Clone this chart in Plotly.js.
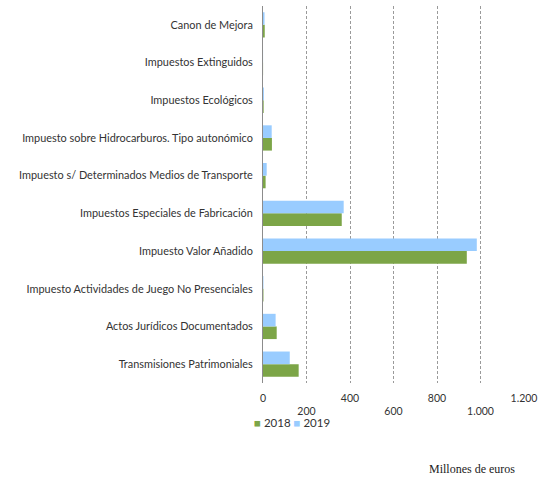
<!DOCTYPE html>
<html>
<head>
<meta charset="utf-8">
<script src="https://cdn.plot.ly/plotly-3.0.1.min.js"></script>
<style>html,body{margin:0;padding:0;background:#fff;}#chart{width:540px;height:482px;}</style>
</head>
<body>
<div id="chart"></div>
<script>
// Categories listed top to bottom as in the chart
var categories = [
  "Canon de Mejora",
  "Impuestos Extinguidos",
  "Impuestos Ecológicos",
  "Impuesto sobre Hidrocarburos. Tipo autonómico",
  "Impuesto s/ Determinados Medios de Transporte",
  "Impuestos Especiales de Fabricación",
  "Impuesto Valor Añadido",
  "Impuesto Actividades de Juego No Presenciales",
  "Actos Jurídicos Documentados",
  "Transmisiones Patrimoniales"
];
var values2018 = [8, 0.3, 3, 41, 12, 362, 937, 2, 63, 164];
var values2019 = [7, 0.3, 4, 40, 17, 371, 983, 2, 58, 123];
var seriesNames = ["2018", "2019"];
var seriesColors = ["#7CA547", "#99CCFF"];
// staggered tick labels: upper row and lower row
var tickVals = [0, 200, 400, 600, 800, 1000, 1200];
var tickTextUpper = ["0", "", "400", "", "800", "", "1.200"];
var tickTextLower = ["", "200", "", "600", "", "1.000", ""];

var fam = "Lato, 'Open Sans', sans-serif";
var labelFont = {family: fam, size: 10.9, color: "#333333"};
var tickFont = {family: fam, size: 10.5, color: "#333333"};

var traces = [
  {type: "bar", orientation: "h", name: seriesNames[0], y: categories, x: values2018,
   marker: {color: seriesColors[0]}, hoverinfo: "x+name", showlegend: false},
  {type: "bar", orientation: "h", name: seriesNames[1], y: categories, x: values2019,
   marker: {color: seriesColors[1]}, hoverinfo: "x+name", showlegend: false},
  // empty helper trace so the second (label-only) x axis is drawn
  {type: "scatter", x: [], y: [], xaxis: "x2", yaxis: "y", showlegend: false, hoverinfo: "skip"}
];

var plotL = 263, plotR = 524, plotT = 6, plotB = 383;
function px2x(px) { return (px - plotL) / (plotR - plotL); }
function px2y(py) { return (plotB - py) / (plotB - plotT); }

var legendText = '<span style="color:' + seriesColors[0] + '">■</span> ' + seriesNames[0] +
                 ' <span style="color:' + seriesColors[1] + '">■</span> ' + seriesNames[1];

var layout = {
  width: 540, height: 482,
  margin: {l: plotL, r: 540 - plotR, t: plotT, b: 482 - plotB, pad: 0},
  paper_bgcolor: "#ffffff", plot_bgcolor: "#ffffff",
  barmode: "group", bargap: 0.33, bargroupgap: 0,
  showlegend: false,
  xaxis: {range: [0, 1200], tickmode: "array", tickvals: tickVals, ticktext: tickTextUpper,
          showgrid: true, gridcolor: "#9a9a9a", griddash: "3px,2px", gridwidth: 1,
          zeroline: false, showline: false, ticks: "",
          ticklabelstandoff: 7, tickfont: tickFont, fixedrange: true},
  xaxis2: {range: [0, 1200], overlaying: "x", anchor: "y", side: "bottom",
           tickmode: "array", tickvals: tickVals, ticktext: tickTextLower,
           showgrid: false, zeroline: false, showline: false, ticks: "",
           ticklabelstandoff: 20, tickfont: tickFont, fixedrange: true},
  yaxis: {type: "category", categoryorder: "array", categoryarray: categories.slice().reverse(),
          showline: true, linecolor: "#8c8c8c", linewidth: 1, ticks: "", showgrid: false,
          ticklabelstandoff: 7, tickfont: labelFont, fixedrange: true},
  annotations: [
    {text: legendText, xref: "paper", yref: "paper",
     x: px2x(252), y: px2y(422), xanchor: "left", yanchor: "middle", showarrow: false,
     font: {family: fam, size: 11.5, color: "#333333"}},
    {text: "Millones de euros", xref: "paper", yref: "paper",
     x: px2x(472), y: px2y(469), xanchor: "center", yanchor: "middle", showarrow: false,
     font: {family: "'Liberation Serif', 'Times New Roman', serif", size: 12, color: "#222222"}}
  ]
};

Plotly.newPlot("chart", traces, layout, {displayModeBar: false, staticPlot: true});
</script>
</body>
</html>
